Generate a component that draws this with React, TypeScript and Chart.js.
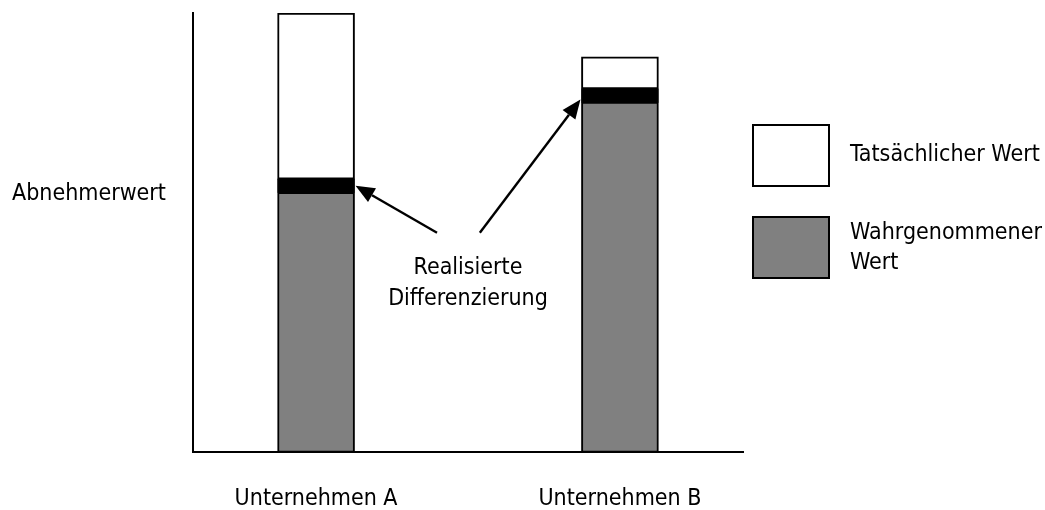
import React, { useEffect, useRef } from 'react';
import { Chart, registerables } from 'chart.js';

Chart.register(...registerables);

// ---- Data ----
const categories = ['Unternehmen A', 'Unternehmen B'];
const categoryPositions = [0, 1];
const perceivedValue = [59.2, 79.7]; // Wahrgenommener Wert (grey)
const realizedDifferentiation = [3.0, 3.0]; // black band
const actualRemainder = [37.8, 7.3]; // up to Tatsächlicher Wert (white)
const yAxisTitle = 'Abnehmerwert';
const legendLines = [['Tatsächlicher Wert'], ['Wahrgenommener', 'Wert']];
const annotationLines = ['Realisierte', 'Differenzierung'];

const FONT = '"DejaVu Sans Condensed", "DejaVu Sans", sans-serif';
const FONT_SIZE = 23;

const toPoints = (vals: number[]) => vals.map((v, i) => ({ x: categoryPositions[i], y: v }));

function drawArrow(ctx: CanvasRenderingContext2D, x1: number, y1: number, x2: number, y2: number) {
  const ang = Math.atan2(y2 - y1, x2 - x1);
  const headLen = 19;
  const headHalf = 8;
  const bx = x2 - headLen * Math.cos(ang);
  const by = y2 - headLen * Math.sin(ang);
  ctx.beginPath();
  ctx.moveTo(x1, y1);
  ctx.lineTo(bx, by);
  ctx.lineWidth = 2.4;
  ctx.strokeStyle = '#000';
  ctx.stroke();
  ctx.beginPath();
  ctx.moveTo(x2, y2);
  ctx.lineTo(bx + headHalf * Math.sin(ang), by - headHalf * Math.cos(ang));
  ctx.lineTo(bx - headHalf * Math.sin(ang), by + headHalf * Math.cos(ang));
  ctx.closePath();
  ctx.fillStyle = '#000';
  ctx.fill();
}

const overlayPlugin = {
  id: 'overlay',
  afterDraw(chart: any) {
    const { ctx, chartArea, scales } = chart;
    const x = scales.x;
    const y = scales.y;
    ctx.save();
    ctx.font = `${FONT_SIZE}px ${FONT}`;
    ctx.fillStyle = '#000';

    // Y axis title (horizontal, left)
    ctx.textAlign = 'left';
    ctx.textBaseline = 'middle';
    ctx.fillText(yAxisTitle, chartArea.left - 181, chartArea.top + 181);

    // Legend
    const ds = chart.data.datasets;
    const legendColors = [ds[2].backgroundColor, ds[0].backgroundColor];
    const boxX = chartArea.right + 10;
    const boxTops = [125, 217];
    legendColors.forEach((c: string, i: number) => {
      ctx.fillStyle = c;
      ctx.fillRect(boxX, boxTops[i], 76, 61);
      ctx.lineWidth = 2;
      ctx.strokeStyle = '#000';
      ctx.strokeRect(boxX, boxTops[i], 76, 61);
      ctx.fillStyle = '#000';
      ctx.textAlign = 'left';
      ctx.textBaseline = 'alphabetic';
      const lines = legendLines[i];
      const firstBase = i === 0 ? 161 : 239;
      lines.forEach((ln, j) => ctx.fillText(ln, boxX + 97, firstBase + j * 30));
    });

    // Arrows to the black bands
    const metaBand = chart.getDatasetMeta(1);
    const elA = metaBand.data[0];
    const elB = metaBand.data[1];
    const tipA = {
      x: elA.x + elA.width / 2 + 1,
      y: y.getPixelForValue(perceivedValue[0] + realizedDifferentiation[0] / 2),
    };
    const tipB = {
      x: elB.x - elB.width / 2 - 1,
      y: y.getPixelForValue(perceivedValue[1] + 0.6),
    };
    const startY = y.getPixelForValue(50);
    drawArrow(ctx, x.getPixelForValue(0.398), startY, tipA.x, tipA.y);
    drawArrow(ctx, x.getPixelForValue(0.539), startY, tipB.x, tipB.y);

    // Annotation text
    ctx.fillStyle = '#000';
    ctx.textAlign = 'center';
    ctx.textBaseline = 'alphabetic';
    const cx = x.getPixelForValue(0.5);
    annotationLines.forEach((ln, j) => ctx.fillText(ln, cx, startY + 41 + j * 31));
    ctx.restore();
  },
};

export default function App() {
  const ref = useRef<HTMLCanvasElement | null>(null);
  useEffect(() => {
    if (!ref.current) return;
    const common = {
      borderColor: '#000',
      borderWidth: 2,
      borderSkipped: false,
      barThickness: 77,
    };
    const chart = new Chart(ref.current, {
      type: 'bar',
      data: {
        datasets: [
          { label: 'Wahrgenommener Wert', data: toPoints(perceivedValue), backgroundColor: '#808080', ...common },
          { label: 'Realisierte Differenzierung', data: toPoints(realizedDifferentiation), backgroundColor: '#000000', ...common, borderWidth: 0 },
          { label: 'Tatsächlicher Wert', data: toPoints(actualRemainder), backgroundColor: '#ffffff', ...common },
        ],
      } as any,
      options: {
        animation: false,
        responsive: false,
        layout: { padding: { left: 193, right: 302, top: 13, bottom: -36 } },
        plugins: { legend: { display: false }, tooltip: { enabled: false } },
        scales: {
          x: {
            type: 'linear',
            min: -0.405,
            max: 1.405,
            offset: false,
            stacked: true,
            afterBuildTicks: (scale: any) => {
              scale.ticks = categoryPositions.map((v) => ({ value: v }));
            },
            ticks: {
              callback: (v: any) => categories[categoryPositions.indexOf(Number(v))] ?? '',
              font: { size: FONT_SIZE, family: FONT },
              color: '#000',
              padding: 33,
              maxRotation: 0,
              autoSkip: false,
            },
            grid: { display: false, drawTicks: false },
            border: { display: true, color: '#000', width: 2 },
          },
          y: {
            min: 0,
            max: 100,
            stacked: true,
            ticks: { display: false },
            grid: { display: false, drawTicks: false },
            border: { display: true, color: '#000', width: 2 },
          },
        },
      } as any,
      plugins: [overlayPlugin],
    });
    return () => chart.destroy();
  }, []);
  return (
    <div style={{ position: 'absolute', left: 0, top: 0, width: 1045, height: 510, background: '#fff' }}>
      <canvas ref={ref} width={1045} height={510} style={{ width: 1045, height: 510, display: 'block' }} />
    </div>
  );
}
